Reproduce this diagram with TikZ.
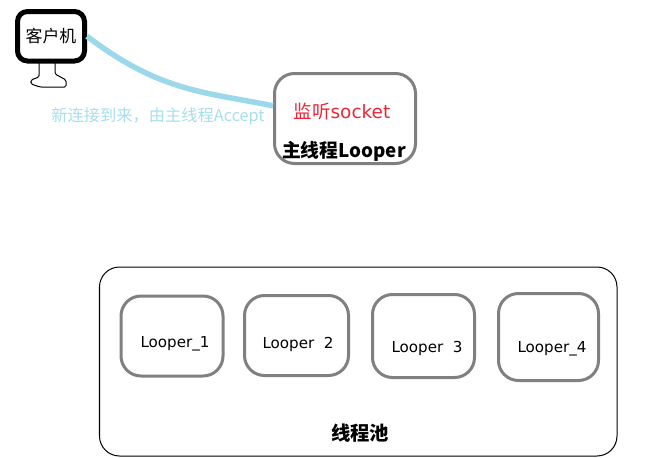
\documentclass[tikz,border=0pt]{standalone}
\usepackage{fontspec}
\setmainfont{Noto Sans CJK SC}
\newfontfamily\latinfont{DejaVu Sans}
\definecolor{wire}{HTML}{9BD9EA}
\definecolor{hint}{HTML}{A6DEEE}
\definecolor{boxgray}{HTML}{808080}
\definecolor{listen}{HTML}{EE2536}
\tikzset{
	panel/.style={draw=boxgray,line width=0.06cm,rounded corners=0.4cm,inner sep=0pt},
	worker/.style={font=\latinfont\fontsize{8.6}{9}\selectfont,inner sep=0pt}
}

\begin{document}
\begin{tikzpicture}
			\useasboundingbox (0,0) rectangle (13.3,9.14);
			\node[draw=black,line width=0.1cm,rounded corners=0.2cm,minimum width=1.34cm,minimum height=0.99cm,inner sep=0pt,font=\fontsize{9.6}{9.6}\selectfont] (client) at (1.02,8.415) {客户机};
			\draw[line width=0.02cm,rounded corners=0.03cm] (0.78,7.88) -- (0.78,7.6) -- (0.62,7.54) -- (0.62,7.46) -- (0.8,7.4) -- (1.32,7.4) -- (1.32,7.54) -- (1.1,7.66) -- (1.1,7.88);
			\node[panel,minimum width=2.82cm,minimum height=1.8cm] (mainloop) at (6.9,6.77) {};
			\draw[wire,line width=0.11cm] (client.east) .. controls (3.2,7.3) and (4.1,7.3) .. (mainloop.170);
			\node[text=hint,font=\fontsize{9.25}{9.25}\selectfont,inner sep=0pt] (accept) at (3.16,6.8) {新连接到来，由主线程Accept};
			\node[text=listen,inner sep=0pt,font=\fontsize{10.5}{10.5}\selectfont] (listener) at (6.84,6.92) {监听{\latinfont socket}};
			\node[inner sep=0pt,font=\fontsize{10.7}{10.7}\selectfont\bfseries] (mainname) at (6.88,6.12) {主线程Looper};
			\node[draw=black,line width=0.02cm,rounded corners=0.4cm,minimum width=10.35cm,minimum height=3.78cm,inner sep=0pt] (pool) at (7.165,1.91) {};
			\node[panel,minimum width=2.04cm,minimum height=1.6cm] (loop1) at (3.44,2.42) {};
			\node[panel,minimum width=2.08cm,minimum height=1.6cm] (loop2) at (5.93,2.43) {};
			\node[panel,minimum width=2.04cm,minimum height=1.66cm] (loop3) at (8.47,2.42) {};
			\node[panel,minimum width=2cm,minimum height=1.74cm] (loop4) at (10.97,2.4) {};
			\node[worker] (name1) at (3.5,2.26) {Looper\_1};
			\node[worker] (name2) at (5.96,2.26) {Looper\ \ 2};
			\node[worker] (name3) at (8.54,2.18) {Looper\ \ 3};
			\node[worker] (name4) at (11.04,2.16) {Looper\_4};
			\node[inner sep=0pt,font=\fontsize{11}{11}\selectfont\bfseries] (poolname) at (7.2,0.48) {线程池};
		\end{tikzpicture}
\end{document}
